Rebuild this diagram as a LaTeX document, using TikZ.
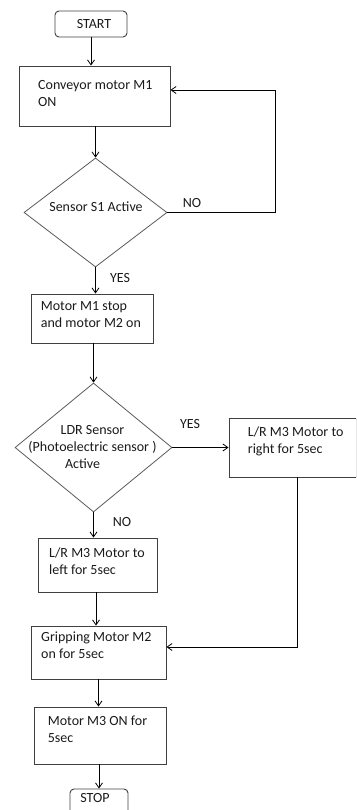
\documentclass[tikz,border=0pt]{standalone}
\usepackage{fontspec}
\setmainfont{Carlito}
\usetikzlibrary{arrows.meta,shapes.geometric,calc}
\definecolor{boxline}{HTML}{404040}
\definecolor{diaLine}{HTML}{5A5A5A}
\definecolor{txt}{HTML}{1A1A1A}
\tikzset{
  box/.style={draw=boxline, line width=0.9pt, rectangle, inner sep=0pt},
  term/.style={box, rounded corners=4pt},
  dia/.style={draw=diaLine, line width=0.8pt, diamond, inner sep=0pt},
  txtnode/.style={text=txt, inner sep=0pt, font=\fontsize{14}{17}\selectfont},
  lbl/.style={txtnode},
  conn/.style={draw=black, line width=0.8pt, -{Straight Barb[length=5pt,width=7pt]}},
  plain/.style={draw=black, line width=0.8pt}
}
\begin{document}
\begin{tikzpicture}[x=1pt,y=-1pt]
\useasboundingbox (0,0) rectangle (356,810);
\begin{scope}
\clip (0,0) rectangle (356,810);
% shapes
\node[term, minimum width=72pt, minimum height=26pt] (start) at (91,24) {};
\node[box, minimum width=151pt, minimum height=60pt] (conv) at (94.5,96) {};
\node[dia, minimum width=143pt, minimum height=109pt] (s1) at (95.5,212.5) {};
\node[box, minimum width=122pt, minimum height=49pt] (m1stop) at (92,318.5) {};
\node[dia, minimum width=157pt, minimum height=129pt] (ldr) at (93.5,447.5) {};
\node[box, minimum width=127pt, minimum height=59pt] (right) at (292.5,447.5) {};
\node[box, minimum width=119pt, minimum height=54pt] (left) at (97.5,565) {};
\node[box, minimum width=135pt, minimum height=53pt] (grip) at (98.5,652.5) {};
\node[box, minimum width=132pt, minimum height=57pt] (m3on) at (100,735.5) {};
\node[term, minimum width=58pt, minimum height=26pt] (stop) at (99,802) {};
% texts
\node[txtnode] (startT) at (94,24.5) {START};
\node[txtnode, anchor=west, align=left] (convT) at (38,93.3) {Conveyor motor M1\\ON};
\node[txtnode] (s1T) at (96,207) {Sensor S1 Active};
\node[txtnode, anchor=west, align=left] (m1stopT) at (40.7,314.2) {Motor M1 stop\\and motor M2 on};
\node[txtnode, align=center] (ldrT) at (92.5,447) {LDR Sensor\\(Photoelectric sensor )\\Active\hspace*{20pt}};
\node[txtnode, anchor=west, align=left] (rightT) at (247.7,441.8) {L/R M3 Motor to\\right for 5sec};
\node[txtnode, anchor=west, align=left] (leftT) at (49,561) {L/R M3 Motor to\\left for 5sec};
\node[txtnode, anchor=west, align=left] (gripT) at (41,645) {Gripping Motor M2\\on for 5sec};
\node[txtnode, anchor=west, align=left] (m3onT) at (47.7,729.2) {Motor M3 ON for\\5sec};
\node[txtnode] (stopT) at (95,798) {STOP};
% labels
\node[lbl] (no1) at (192,203) {NO};
\node[lbl] (yes1) at (120,278) {YES};
\node[lbl] (yes2) at (190,424) {YES};
\node[lbl] (no2) at (122,522) {NO};
% connectors
\draw[conn] (start.south) -- (start.south |- conv.north);
\draw[conn] (s1.north |- conv.south) -- (s1.north);
\coordinate (loop) at (275,90);
\draw[conn] (s1.east) -| (loop) -- (loop -| conv.east);
\draw[conn] (s1.south) -- (s1.south |- m1stop.north);
\draw[conn] (ldr.north |- m1stop.south) -- (ldr.north);
\draw[conn] (ldr.east) -- (right.west);
\draw[conn] (ldr.south) -- (ldr.south |- left.north);
\coordinate (rdrop) at (297,647);
\draw[conn] (rdrop |- right.south) -- (rdrop) -- (rdrop -| grip.east);
\draw[conn] ($(left.south)+(-1.5,0)$) -- ($(left.south |- grip.north)+(-1.5,0)$);
\draw[conn] (grip.south) -- (grip.south |- m3on.north);
\draw[conn] (stop.north |- m3on.south) -- (stop.north);
\end{scope}
\end{tikzpicture}
\end{document}
